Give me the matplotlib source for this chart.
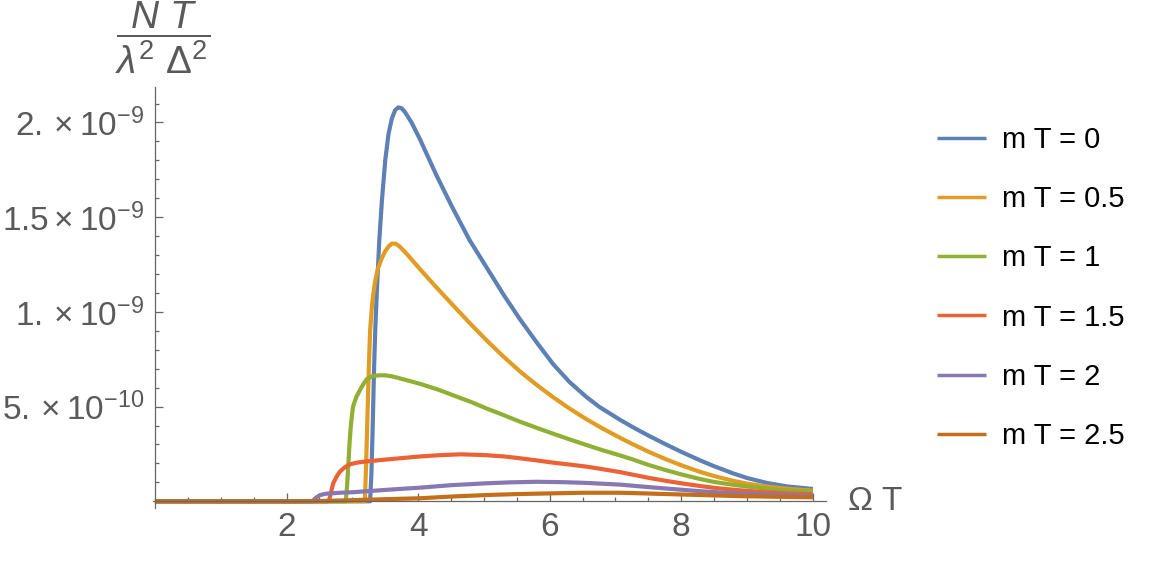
import numpy as np
import matplotlib
matplotlib.use('Agg')
import matplotlib.pyplot as plt

plt.rcParams['font.family'] = ['Liberation Sans', 'DejaVu Sans']
plt.rcParams['mathtext.fontset'] = 'custom'
plt.rcParams['mathtext.rm'] = 'Liberation Sans'
plt.rcParams['mathtext.it'] = 'Liberation Sans:italic'
plt.rcParams['mathtext.bf'] = 'Liberation Sans:bold'

# values, y in units of 1e-10
x_m0 = [0, 3.27, 3.29, 3.31, 3.33, 3.35, 3.37, 3.41, 3.45, 3.50, 3.55, 3.60, 3.65, 3.70, 3.75,
        3.80, 3.90, 4.03, 4.28, 4.53, 4.78, 5.04, 5.30, 5.55, 5.80, 6.05, 6.30, 6.56, 6.76,
        7.07, 7.27, 7.50, 7.78, 8.00, 8.28, 8.50, 8.79, 9.00, 9.30, 9.60, 10.0]
y_m0 = [0, 0, 1.5, 4.0, 7.0, 9.2, 10.9, 13.8, 15.9, 18.0, 19.4, 20.2, 20.65, 20.8, 20.75,
        20.55, 20.0, 19.1, 17.2, 15.45, 13.8, 12.35, 10.9, 9.6, 8.4, 7.25, 6.3, 5.5, 4.97,
        4.3, 3.9, 3.47, 2.98, 2.61, 2.17, 1.85, 1.47, 1.23, 0.97, 0.79, 0.65]

x_m05 = [0, 3.19, 3.21, 3.23, 3.25, 3.27, 3.30, 3.34, 3.39, 3.45, 3.50, 3.55, 3.60, 3.66,
         3.72, 3.83, 3.93, 4.03, 4.25, 4.53, 4.80, 5.04, 5.30, 5.55, 5.80, 6.05, 6.30, 6.56,
         6.80, 7.07, 7.27, 7.50, 7.78, 8.00, 8.28, 8.50, 8.79, 9.00, 9.30, 9.60, 10.0]
y_m05 = [0, 0, 2.0, 4.5, 7.0, 9.0, 10.4, 11.5, 12.3, 12.85, 13.2, 13.45, 13.6, 13.6,
         13.45, 13.05, 12.65, 12.25, 11.4, 10.35, 9.35, 8.5, 7.63, 6.85, 6.15, 5.5, 4.9, 4.33,
         3.85, 3.35, 3.0, 2.62, 2.2, 1.9, 1.56, 1.33, 1.08, 0.93, 0.78, 0.66, 0.56]

x_m1 = [0, 2.90, 2.92, 2.94, 2.96, 2.98, 3.01, 3.06, 3.12, 3.17, 3.22, 3.30, 3.40, 3.50,
        3.60, 3.82, 4.03, 4.30, 4.53, 4.80, 5.04, 5.30, 5.55, 5.80, 6.05, 6.30, 6.56, 6.80,
        7.07, 7.27, 7.50, 7.78, 8.00, 8.28, 8.50, 8.79, 9.00, 9.30, 9.60, 10.0]
y_m1 = [0, 0, 0.8, 2.0, 3.2, 4.1, 5.0, 5.5, 5.9, 6.2, 6.45, 6.6, 6.65, 6.65,
        6.6, 6.4, 6.2, 5.9, 5.6, 5.25, 4.9, 4.55, 4.2, 3.88, 3.57, 3.27, 2.97, 2.7,
        2.42, 2.2, 1.92, 1.63, 1.42, 1.18, 1.02, 0.87, 0.78, 0.67, 0.58, 0.51]

x_m15 = [0, 2.63, 2.65, 2.66, 2.68, 2.71, 2.76, 2.81, 2.88, 2.96, 3.07, 3.20, 3.50, 4.00,
         4.30, 4.65, 5.00, 5.30, 5.55, 5.80, 6.05, 6.30, 6.56, 6.76, 7.07, 7.27, 7.50, 7.78,
         8.00, 8.28, 8.50, 8.79, 9.00, 9.30, 9.60, 10.0]
y_m15 = [0, 0, 0.1, 0.24, 0.55, 0.95, 1.3, 1.56, 1.78, 1.95, 2.04, 2.1, 2.2, 2.36,
         2.43, 2.48, 2.44, 2.37, 2.27, 2.16, 2.04, 1.94, 1.83, 1.72, 1.54, 1.40, 1.24, 1.07,
         0.95, 0.81, 0.71, 0.61, 0.55, 0.48, 0.42, 0.37]

x_m2 = [0, 2.39, 2.42, 2.45, 2.51, 2.60, 2.81, 3.01, 3.50, 4.03, 4.50, 5.04, 5.40, 5.80,
        6.20, 6.56, 7.07, 7.40, 7.78, 8.30, 8.79, 9.40, 10.0]
y_m2 = [0, 0, 0.1, 0.2, 0.33, 0.40, 0.45, 0.48, 0.60, 0.72, 0.85, 0.95, 1.0, 1.03,
        1.01, 0.97, 0.88, 0.78, 0.67, 0.53, 0.42, 0.34, 0.28]

x_m25 = [0, 2.15, 2.6, 3.0, 3.5, 4.03, 4.5, 5.04, 5.5, 6.05, 6.5, 7.07, 7.4, 7.78, 8.3,
         8.79, 9.4, 10.0]
y_m25 = [0, 0, 0.02, 0.06, 0.11, 0.16, 0.25, 0.33, 0.38, 0.42, 0.45, 0.45, 0.42, 0.38, 0.33,
         0.28, 0.24, 0.21]

labels = ['m T = 0', 'm T = 0.5', 'm T = 1', 'm T = 1.5', 'm T = 2', 'm T = 2.5']
colors = ['#5E81B5', '#E19C24', '#8FB032', '#EB6235', '#8778B3', '#C56E1A']

ytick_vals = [5e-10, 1e-9, 1.5e-9, 2e-9]
ytick_labels = [r'$5.\times10^{-10}$', r'$1.\times10^{-9}$', r'$1.5\times10^{-9}$', r'$2.\times10^{-9}$']
xtick_vals = [2, 4, 6, 8, 10]

gray = '#666666'
fig = plt.figure(figsize=(11.76, 5.65), dpi=100)
ax = fig.add_axes([0.1301, 0.1009, 0.5723, 0.745])

xs = [x_m0, x_m05, x_m1, x_m15, x_m2, x_m25]
ys = [y_m0, y_m05, y_m1, y_m15, y_m2, y_m25]
for xx, yy, c, lab in zip(xs, ys, colors, labels):
    ax.plot(xx, np.array(yy) * 1e-10, color=c, lw=3, label=lab,
            solid_capstyle='butt', solid_joinstyle='round')

ax.set_xlim(-0.03, 10.2)
ax.set_ylim(-0.0354e-9, 2.187e-9)

for s in ['top', 'right']:
    ax.spines[s].set_visible(False)
ax.spines['left'].set_position(('data', 0))
ax.spines['bottom'].set_position(('data', 0))
for s in ['left', 'bottom']:
    ax.spines[s].set_color(gray)
    ax.spines[s].set_linewidth(0.9)

ax.set_xticks(xtick_vals, [str(v) for v in xtick_vals])
ax.set_xticks(np.arange(0.5, 10.01, 0.5), minor=True)
ax.set_yticks(ytick_vals, ytick_labels)
ax.set_yticks(np.arange(1e-10, 2.15e-9, 1e-10), minor=True)
ax.tick_params(which='both', direction='in', color=gray, width=0.9, labelcolor='#5a5a5a', labelsize=24)
ax.tick_params(which='major', length=5.5)
ax.tick_params(which='minor', length=3.2)
ax.tick_params(axis='x', pad=8)
ax.tick_params(axis='y', pad=8)

ax.text(10.52, 0, r'$\Omega\ \mathrm{T}$', fontsize=24, color='#5a5a5a', va='center', ha='left')
fig.text(0.1386, 0.933, r'$\dfrac{N\ T}{\lambda^2\ \Delta^2}$', fontsize=28, color='#5a5a5a',
         ha='center', va='center')

leg = ax.legend(loc='upper left', bbox_to_anchor=(0.7965, 0.777), bbox_transform=fig.transFigure,
                frameon=False, fontsize=21, handlelength=1.7, handletextpad=0.55,
                labelspacing=1.07, borderpad=0, borderaxespad=0)
for h in leg.get_lines():
    h.set_linewidth(2.5)

fig.savefig('out.png', dpi=100)
